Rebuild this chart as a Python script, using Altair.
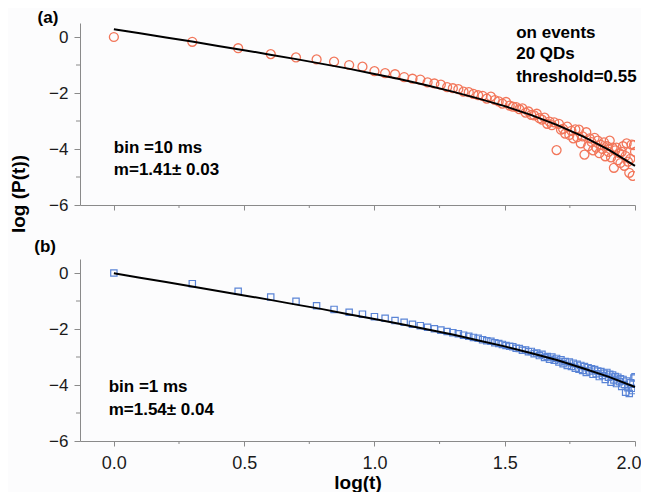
import altair as alt
import pandas as pd

# x positions: log(t) for t = 1 .. 100
log_t = [0.000, 0.301, 0.477, 0.602, 0.699, 0.778, 0.845, 0.903, 0.954, 1.000,
         1.041, 1.079, 1.114, 1.146, 1.176, 1.204, 1.230, 1.255, 1.279, 1.301,
         1.322, 1.342, 1.362, 1.380, 1.398, 1.415, 1.431, 1.447, 1.462, 1.477,
         1.491, 1.505, 1.519, 1.531, 1.544, 1.556, 1.568, 1.580, 1.591, 1.602,
         1.613, 1.623, 1.633, 1.643, 1.653, 1.663, 1.672, 1.681, 1.690, 1.699,
         1.708, 1.716, 1.724, 1.732, 1.740, 1.748, 1.756, 1.763, 1.771, 1.778,
         1.785, 1.792, 1.799, 1.806, 1.813, 1.820, 1.826, 1.833, 1.839, 1.845,
         1.851, 1.857, 1.863, 1.869, 1.875, 1.881, 1.886, 1.892, 1.898, 1.903,
         1.908, 1.914, 1.919, 1.924, 1.929, 1.934, 1.940, 1.944, 1.949, 1.954,
         1.959, 1.964, 1.968, 1.973, 1.978, 1.982, 1.987, 1.991, 1.996, 2.000]

# panel (a): bin = 10 ms, log P(t)
logp_10ms = [0.00, -0.17, -0.40, -0.61, -0.73, -0.80, -0.88, -1.00, -1.06, -1.22,
             -1.29, -1.33, -1.43, -1.49, -1.52, -1.62, -1.66, -1.70, -1.79, -1.83,
             -1.86, -1.95, -1.97, -2.03, -2.08, -2.10, -2.20, -2.13, -2.25, -2.30,
             -2.38, -2.32, -2.45, -2.49, -2.50, -2.58, -2.55, -2.70, -2.66, -2.78,
             -2.80, -2.74, -2.90, -2.95, -2.88, -3.10, -3.02, -3.15, -3.05, -4.04,
             -3.10, -3.31, -3.28, -3.45, -3.20, -3.50, -3.35, -3.62, -3.30, -3.58,
             -3.31, -3.80, -3.55, -4.20, -3.40, -3.90, -3.62, -3.75, -4.05, -3.60,
             -3.95, -3.70, -4.15, -3.85, -4.00, -3.76, -4.26, -3.90, -4.10, -3.70,
             -4.30, -3.95, -4.67, -4.05, -3.95, -4.40, -4.15, -4.50, -4.10, -3.90,
             -4.60, -4.25, -3.80, -4.45, -4.85, -4.35, -3.84, -4.96, -3.86, -4.10]

# panel (b): bin = 1 ms, log P(t)
logp_1ms = [0.00, -0.38, -0.65, -0.86, -1.01, -1.17, -1.30, -1.40, -1.47, -1.56,
            -1.62, -1.70, -1.76, -1.83, -1.88, -1.94, -1.99, -2.04, -2.09, -2.13,
            -2.17, -2.22, -2.26, -2.30, -2.33, -2.38, -2.42, -2.44, -2.49, -2.52,
            -2.55, -2.59, -2.62, -2.63, -2.69, -2.70, -2.76, -2.75, -2.81, -2.80,
            -2.88, -2.86, -2.95, -2.90, -3.02, -2.98, -3.08, -3.00, -3.12, -3.05,
            -3.18, -3.10, -3.24, -3.16, -3.30, -3.18, -3.34, -3.22, -3.40, -3.26,
            -3.44, -3.30, -3.48, -3.34, -3.55, -3.38, -3.50, -3.42, -3.62, -3.45,
            -3.60, -3.50, -3.70, -3.52, -3.66, -3.58, -3.80, -3.55, -3.72, -3.62,
            -3.90, -3.64, -3.82, -3.70, -3.95, -3.72, -3.88, -3.78, -4.05, -3.80,
            -3.98, -4.26, -3.86, -4.10, -4.30, -3.92, -4.12, -4.20, -3.75, -3.71]

# fitted curves
fit_x = [0.0, 0.1, 0.2, 0.3, 0.4, 0.5, 0.6, 0.7, 0.8, 0.9, 1.0,
         1.1, 1.2, 1.3, 1.4, 1.5, 1.6, 1.7, 1.8, 1.9, 2.0]
fit_10ms = [0.28, 0.13, -0.02, -0.16, -0.32, -0.47, -0.63, -0.79, -0.96, -1.13, -1.32,
            -1.51, -1.72, -1.95, -2.20, -2.47, -2.78, -3.14, -3.55, -4.03, -4.60]
fit_1ms = [-0.01, -0.17, -0.32, -0.48, -0.64, -0.80, -0.96, -1.13, -1.29, -1.47, -1.64,
           -1.82, -2.01, -2.20, -2.41, -2.62, -2.86, -3.11, -3.40, -3.71, -4.07]

x_ticks = [0.0, 0.5, 1.0, 1.5, 2.0]
x_minor = [0.25, 0.75, 1.25, 1.75]
y_ticks = [0, -2, -4, -6]
y_minor = [-1, -3, -5]

W, H = 555, 182
FONT = "Liberation Sans"
AXIS_GRAY = "#8a8a8a"
xs = alt.Scale(domain=[-0.13, 2.0], nice=False, zero=False)
ys = alt.Scale(domain=[-6, 0.5], nice=False, zero=False)


def make_axes(bottom):
    xaxis = alt.Axis(values=x_ticks, tickSize=5, domainColor=AXIS_GRAY,
                     tickColor=AXIS_GRAY, labels=bottom, labelFont=FONT,
                     labelFontSize=18, labelColor="#1a1a1a", labelPadding=8,
                     labelFlush=2, labelFlushOffset=6,
                     title="log(t)" if bottom else None, titleFont=FONT,
                     titleFontSize=19, titleFontWeight="bold",
                     titleColor="black", titlePadding=1)
    yaxis = alt.Axis(values=y_ticks, tickSize=6, domainColor=AXIS_GRAY,
                     tickColor=AXIS_GRAY, labelFont=FONT, labelFontSize=17,
                     labelColor="#1a1a1a", labelPadding=6, title=None)
    return xaxis, yaxis


def label(txt, x, y, xaxis, yaxis, size=17, align="left"):
    return alt.Chart().mark_text(
        align=align, baseline="middle", font=FONT, fontSize=size,
        fontWeight="bold", color="black"
    ).encode(x=alt.XDatum(x, scale=xs, axis=xaxis),
             y=alt.YDatum(y, scale=ys, axis=yaxis),
             text=alt.value(txt))


def panel(yvals, fit, color, shape, size, sw, bottom, texts):
    xaxis, yaxis = make_axes(bottom)
    pts = pd.DataFrame({"x": log_t, "y": yvals})
    fitdf = pd.DataFrame({"x": fit_x, "y": fit})
    points = alt.Chart(pts).mark_point(
        shape=shape, filled=False, size=size, strokeWidth=sw, color=color,
        opacity=1, clip=True
    ).encode(x=alt.X("x:Q", scale=xs, axis=xaxis),
             y=alt.Y("y:Q", scale=ys, axis=yaxis))
    line = alt.Chart(fitdf).mark_line(color="black", strokeWidth=2).encode(
        x=alt.X("x:Q", scale=xs, axis=xaxis), y=alt.Y("y:Q", scale=ys, axis=yaxis))
    xmin = alt.Chart(pd.DataFrame({"v": x_minor})).mark_rule(
        color=AXIS_GRAY, strokeWidth=1).encode(
        x=alt.X("v:Q", scale=xs, axis=xaxis), y=alt.value(H), y2=alt.value(H + 3))
    ymin = alt.Chart(pd.DataFrame({"v": y_minor})).mark_rule(
        color=AXIS_GRAY, strokeWidth=1).encode(
        y=alt.Y("v:Q", scale=ys, axis=yaxis), x=alt.value(0), x2=alt.value(-4))
    txt_layers = [label(t, x, y, xaxis, yaxis, align=a) for (t, x, y, a) in texts]
    layers = [points, line, xmin, ymin] + txt_layers
    return alt.layer(*layers).properties(width=W, height=H)


top_texts = [
    ("(a)", -0.253, 0.68, "center"),
    ("on events", 1.544, 0.14, "left"),
    ("20 QDs", 1.544, -0.61, "left"),
    ("threshold=0.55", 1.544, -1.43, "left"),
    ("bin =10 ms", 0.0, -3.96, "left"),
    ("m=1.41\u00b1 0.03", 0.0, -4.75, "left"),
]
bot_texts = [
    ("(b)", -0.264, 0.93, "center"),
    ("bin =1 ms", -0.02, -4.08, "left"),
    ("m=1.54\u00b1 0.04", -0.02, -4.9, "left"),
]

top = panel(logp_10ms, fit_10ms, "#f2765a", "circle", 80, 1.3, False, top_texts)
ytitle = alt.Chart().mark_text(
    angle=270, align="center", baseline="middle", font=FONT, fontSize=19,
    fontWeight="bold", color="black"
).encode(x=alt.value(-61.5), y=alt.value(171), text=alt.value("log (P(t))"))
top = alt.layer(top, ytitle)
bottom = panel(logp_1ms, fit_1ms, "#5a84d6", "square", 40, 1.2, True, bot_texts)

chart = alt.vconcat(top, bottom, spacing=54, bounds="flush").properties(
    padding={"left": 1, "top": 0, "right": 0, "bottom": 0},
    background="#fcfcfd",
).configure_view(stroke=None).configure_axis(grid=False)

chart.save("out.html", embed_options={"renderer": "svg", "actions": False})
